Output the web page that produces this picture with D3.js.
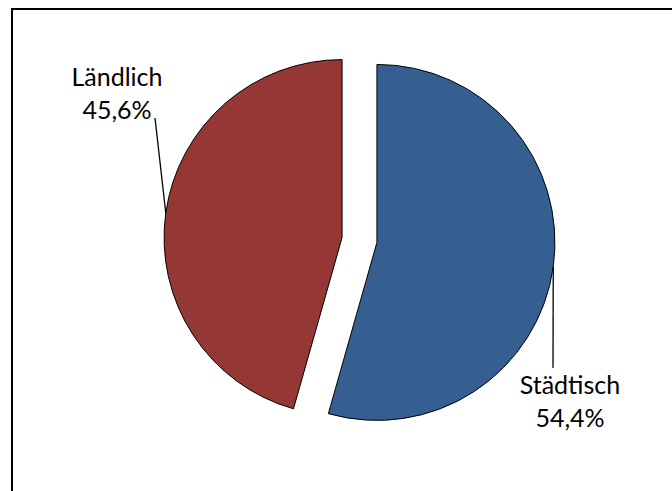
<!DOCTYPE html>
<html>
<head>
<meta charset="utf-8">
<script src="https://cdn.jsdelivr.net/npm/d3@7"></script>
<style>
  html, body { margin: 0; padding: 0; background: #fff; }
  svg { display: block; }
</style>
</head>
<body>
<svg id="chart" width="672" height="491"></svg>
<script>
// ---- data ----
const categories = ["Städtisch", "Ländlich"];
const values = [54.4, 45.6];
const valueLabels = ["54,4%", "45,6%"];
const colors = ["#365F91", "#953735"];

// ---- layout ----
const W = 672, H = 491;
const cx = 359.5, cy = 240, R = 178, explode = 17.6;
const labelPos = [
  { x: 570, y: 394, lineEnd: [553, 368] },
  { x: 117, y: 86, lineEnd: [155, 118] }
];
const fontFamily = "Lato, 'Open Sans', sans-serif";
const fontSize = 25;

const svg = d3.select("#chart");
svg.append("rect").attr("width", W).attr("height", H).attr("fill", "#fff");
svg.append("rect")
  .attr("x", 12).attr("y", 9).attr("width", 720).attr("height", 520)
  .attr("fill", "none").attr("stroke", "#000").attr("stroke-width", 2);

const pie = d3.pie().sort(null).value(d => d);
const arcs = pie(values);
const arc = d3.arc().innerRadius(0).outerRadius(R);

const g = svg.append("g").attr("transform", `translate(${cx},${cy})`);

arcs.forEach((a, i) => {
  const mid = (a.startAngle + a.endAngle) / 2;
  const ox = Math.sin(mid) * explode, oy = -Math.cos(mid) * explode;
  const sg = g.append("g").attr("transform", `translate(${ox},${oy})`);
  sg.append("path")
    .attr("d", arc(a))
    .attr("fill", colors[i])
    .attr("stroke", "#000")
    .attr("stroke-width", 1)
    .attr("stroke-linejoin", "miter");
  // leader line from arc midpoint
  const px = cx + ox + Math.sin(mid) * R, py = cy + oy - Math.cos(mid) * R;
  svg.append("line")
    .attr("x1", px).attr("y1", py)
    .attr("x2", labelPos[i].lineEnd[0]).attr("y2", labelPos[i].lineEnd[1])
    .attr("stroke", "#000").attr("stroke-width", 1.3);
  const t = svg.append("text")
    .attr("x", labelPos[i].x).attr("y", labelPos[i].y)
    .attr("text-anchor", "middle")
    .attr("font-family", fontFamily)
    .attr("font-size", fontSize)
    .attr("fill", "#000");
  t.append("tspan").attr("x", labelPos[i].x).text(categories[i]);
  t.append("tspan").attr("x", labelPos[i].x).attr("dy", 33).text(valueLabels[i]);
});
</script>
</body>
</html>
